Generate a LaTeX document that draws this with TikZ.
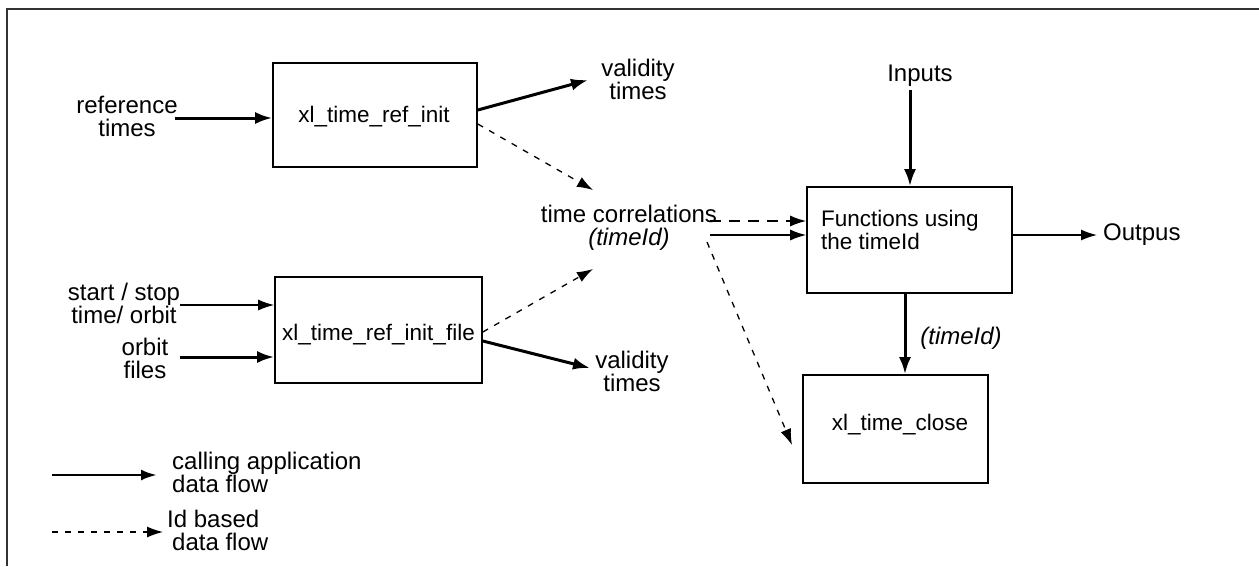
\documentclass[tikz,border=0pt]{standalone}
\usepackage{fontspec}
\setmainfont{Liberation Sans}
\usetikzlibrary{arrows.meta,calc}
\begin{document}
\begin{tikzpicture}[x=1pt,y=-1pt,
  box/.style={draw,line width=1.6pt,inner sep=0pt},
  lbl/.style={font=\fontsize{24}{23}\selectfont,align=center,inner sep=0pt},
  boxlbl/.style={font=\fontsize{22.5}{23}\selectfont,align=center,inner sep=0pt},
  lbll/.style={font=\fontsize{24}{23}\selectfont,align=left,inner sep=0pt},
  thickflow/.style={line width=3pt,-{Latex[length=17pt,width=12pt]}},
  thinflow/.style={line width=1.5pt,-{Latex[length=16pt,width=11pt]}},
  idflow/.style={line width=1.3pt,dash pattern=on 6pt off 7pt,-{Latex[length=16pt,width=11pt]}},
  idflowlong/.style={line width=1.5pt,dash pattern=on 11pt off 8pt,-{Latex[length=16pt,width=11pt]}}]
\useasboundingbox (0,0) rectangle (1259,566);
% frame
\draw[line width=1.6pt,black!80] (7,566) -- (7,9) -- (1259,9);

% boxes
\node[box,minimum width=204pt,minimum height=104pt] (b1) at (375,115) {};
\node[boxlbl] (b1t) at (374,117) {xl\_time\_ref\_init};
\node[box,minimum width=207pt,minimum height=106pt] (b2) at (378.5,330) {};
\node[boxlbl] (b2t) at (378.5,335) {xl\_time\_ref\_init\_file};
\node[box,minimum width=205pt,minimum height=106pt] (bf) at (909.5,240) {};
\node[font=\fontsize{22.5}{23}\selectfont,align=left,inner sep=0pt,anchor=west] (bft) at (821,230) {Functions using\\the timeId};
\node[box,minimum width=185pt,minimum height=108pt] (bc) at (895.5,429) {};
\node[boxlbl] (bct) at (900,425) {xl\_time\_close};

% labels
\node[lbl] (tref) at (127,116) {reference\\times};
\node[lbl] (tval1) at (638,79) {validity\\times};
\node[lbl] (tcorr) at (629,228) {time correlations\\\textit{(timeId)}};
\node[lbl] (tss) at (124,303) {start / stop\\time/ orbit};
\node[lbl] (tof) at (145,358) {orbit\\files};
\node[lbl] (tval2) at (632,371) {validity\\times};
\node[lbl] (tin) at (920,76) {Inputs};
\node[lbl,anchor=west] (tout) at (1103,235) {Outpus};
\node[lbl] (ttid) at (961,338) {\textit{(timeId)}};
\node[lbll,anchor=west] (leg1) at (172,472) {calling application\\data flow};
\node[lbll,anchor=west] (leg2) at (167,530) {Id based\\\hspace*{5pt}data flow};

% free ends
\coordinate (refs) at (175,118);
\coordinate (v1e) at (588,80);
\coordinate (c1e) at (593,190);
\coordinate (sss) at (180,305);
\coordinate (ofs) at (180,357);
\coordinate (c2e) at (593,269);
\coordinate (v2e) at (590,368);
\coordinate (cd) at (710,221);
\coordinate (cs) at (710,235);
\coordinate (cc) at (707,242);
\coordinate (cce) at (792,445);
\coordinate (ins) at (910,90);
\coordinate (oute) at (1097,235);
\coordinate (l1a) at (52,475);
\coordinate (l1b) at (157,475);
\coordinate (l2a) at (52,532);
\coordinate (l2b) at (163,532);

% connectors
\draw[thickflow] (refs) -- (refs -| b1.west);
\draw[thickflow] (b1.east |- 0,110) -- (v1e);
\draw[idflow] (b1.east |- 0,124) -- (c1e);
\draw[thinflow] (sss) -- (sss -| b2.west);
\draw[thickflow] (ofs) -- (ofs -| b2.west);
\draw[idflow] (b2.east |- 0,332) -- (c2e);
\draw[thickflow] (b2.east |- 0,341) -- (v2e);
\draw[idflowlong] (cd) -- (cd -| bf.west);
\draw[thinflow] (cs) -- (cs -| bf.west);
\draw[idflow] (cc) -- (cce);
\draw[thickflow] (ins) -- (ins |- bf.north);
\draw[thickflow] (bf.south -| 905,0) -- (bc.north -| 905,0);
\draw[thinflow] (bf.east |- oute) -- (oute);
\draw[line width=2.8pt,-{Latex[length=16pt,width=11pt]}] (l1a) -- (l1b);
\draw[idflow] (l2a) -- (l2b);
\end{tikzpicture}
\end{document}
